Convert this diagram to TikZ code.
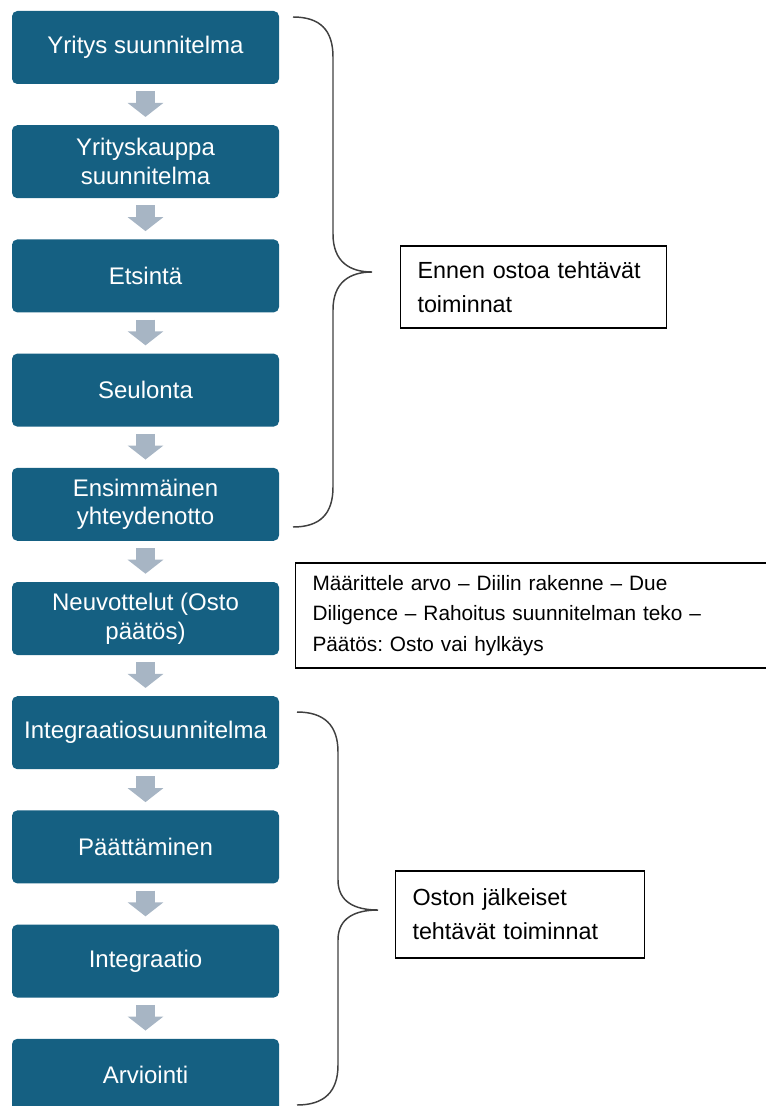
\documentclass[tikz,border=0pt]{standalone}
\usepackage{fontspec}
\setmainfont{Liberation Sans}
\usetikzlibrary{arrows.meta}
\frenchspacing
\definecolor{stepblue}{HTML}{156082}
\definecolor{flowgrey}{HTML}{A7B5C4}
\tikzset{
  phase/.style={fill=stepblue, rounded corners=4pt, minimum width=200.25pt, minimum height=54.75pt,
    text=white, align=center, inner sep=0pt, font=\fontsize{18}{21.5}\selectfont},
  flow/.style={draw=flowgrey, line width=14.25pt, -{Triangle[width=26.25pt, length=10.5pt]}},
  note/.style={draw=black, line width=0.8pt, align=left, anchor=west, inner xsep=12.75pt, inner ysep=0pt},
  brace/.style={draw=black!75, line width=1.1pt}
}
\begin{document}
\begin{tikzpicture}[x=0.75pt, y=-0.75pt]
  \clip (0,0) rectangle (766,1106);
  % process steps
  \node[phase] (yritys) at (145.5,47.5) {Yritys suunnitelma};
  \node[phase] (kauppa) at (145.5,161.7) {Yrityskauppa\\suunnitelma};
  \node[phase] (etsinta) at (145.5,275.9) {Etsintä};
  \node[phase] (seulonta) at (145.5,390.1) {Seulonta};
  \node[phase] (yhteys) at (145.5,504.3) {Ensimmäinen\\yhteydenotto};
  \node[phase] (neuvottelu) at (145.5,618.5) {Neuvottelut (Osto\\päätös)};
  \node[phase] (integsuun) at (145.5,732.7) {Integraatiosuunnitelma};
  \node[phase] (paattaminen) at (145.5,846.9) {Päättäminen};
  \node[phase] (integraatio) at (145.5,961.1) {Integraatio};
  \node[phase] (arviointi) at (145.5,1075.3) {Arviointi};
  % arrows
  \draw[flow] ([yshift=-5.25pt]yritys.south) -- ([yshift=6pt]kauppa.north);
  \draw[flow] ([yshift=-5.25pt]kauppa.south) -- ([yshift=6pt]etsinta.north);
  \draw[flow] ([yshift=-5.25pt]etsinta.south) -- ([yshift=6pt]seulonta.north);
  \draw[flow] ([yshift=-5.25pt]seulonta.south) -- ([yshift=6pt]yhteys.north);
  \draw[flow] ([yshift=-5.25pt]yhteys.south) -- ([yshift=6pt]neuvottelu.north);
  \draw[flow] ([yshift=-5.25pt]neuvottelu.south) -- ([yshift=6pt]integsuun.north);
  \draw[flow] ([yshift=-5.25pt]integsuun.south) -- ([yshift=6pt]paattaminen.north);
  \draw[flow] ([yshift=-5.25pt]paattaminen.south) -- ([yshift=6pt]integraatio.north);
  \draw[flow] ([yshift=-5.25pt]integraatio.south) -- ([yshift=6pt]arviointi.north);
  % notes
  \node[note, text width=174pt, minimum height=61.5pt, font=\fontsize{17.5}{25.5}\selectfont] (ennen) at (400,287)
    {Ennen ostoa tehtävät\\toiminnat};
  \node[note, text width=420pt, minimum height=78.75pt, font=\fontsize{15.6}{23}\selectfont] (vaiheet) at (295,615.5)
    {Määrittele arvo -- Diilin rakenne -- Due\\Diligence -- Rahoitus suunnitelman teko --\\Päätös: Osto vai hylkäys};
  \node[note, text width=161.25pt, minimum height=65.25pt, font=\fontsize{17.5}{25.5}\selectfont] (jalkeen) at (395,914.5)
    {Oston jälkeiset\\tehtävät toiminnat};
  % braces
  \draw[brace] (293,17) .. controls (320,17) and (333,30) .. (333,57) -- (333,234)
    .. controls (333,262) and (350,272) .. (372,272) .. controls (350,272) and (333,282) .. (333,310)
    -- (333,487) .. controls (333,514) and (320,527) .. (293,527);
  \draw[brace] (297,712) .. controls (324,712) and (338,725) .. (338,752) -- (338,880)
    .. controls (338,902) and (355,910) .. (378,910) .. controls (355,910) and (338,918) .. (338,940)
    -- (338,1065) .. controls (338,1092) and (324,1105) .. (297,1105);
\end{tikzpicture}
\end{document}
